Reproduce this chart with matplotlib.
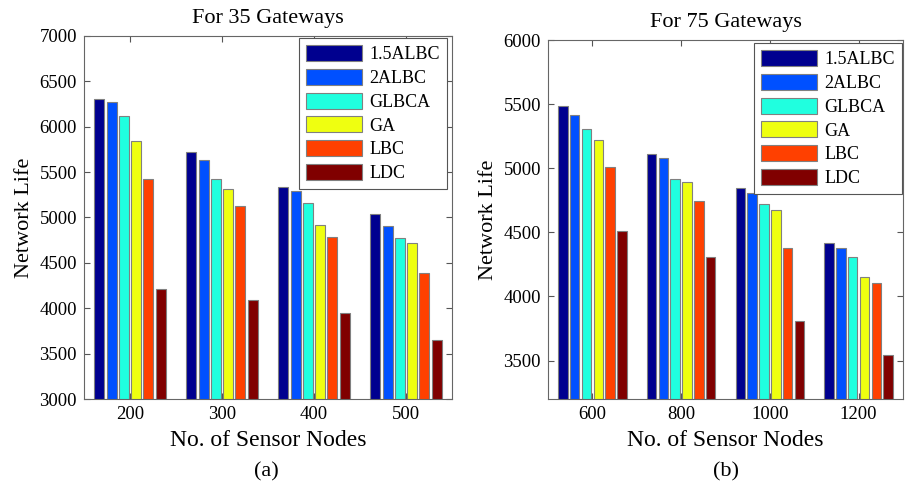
import numpy as np
import matplotlib.pyplot as plt

plt.rcParams['font.family'] = ['Liberation Serif', 'DejaVu Serif']

# algorithm names and bar colours
schemes = ['1.5ALBC', '2ALBC', 'GLBCA', 'GA', 'LBC', 'LDC']
colors = ['#00008F', '#0050FF', '#20FFDF', '#EFFF10', '#FF4000', '#800000']

# (a) 35 gateways
nodes_a = ['200', '300', '400', '500']
life_a = {
    '1.5ALBC': [6310, 5717, 5335, 5040],
    '2ALBC':   [6272, 5632, 5294, 4901],
    'GLBCA':   [6114, 5419, 5165, 4772],
    'GA':      [5846, 5309, 4915, 4717],
    'LBC':     [5419, 5125, 4787, 4393],
    'LDC':     [4210, 4096, 3952, 3654],
}

# (b) 75 gateways
nodes_b = ['600', '800', '1000', '1200']
life_b = {
    '1.5ALBC': [5484, 5107, 4844, 4417],
    '2ALBC':   [5414, 5078, 4805, 4375],
    'GLBCA':   [5305, 4917, 4719, 4307],
    'GA':      [5219, 4896, 4677, 4148],
    'LBC':     [5008, 4747, 4375, 4107],
    'LDC':     [4513, 4305, 3807, 3547],
}

W, H = 910, 486
fig = plt.figure(figsize=(W / 100, H / 100), dpi=100)

def px_axes(x0, y0, x1, y1):
    return fig.add_axes([x0 / W, 1 - y1 / H, (x1 - x0) / W, (y1 - y0) / H])

def grouped_bars(ax, labels, data, ylim, yticks, title, leg_box):
    x = np.arange(1, len(labels) + 1)
    step = 0.8 / len(schemes)
    for i, (name, c) in enumerate(zip(schemes, colors)):
        off = (i - (len(schemes) - 1) / 2) * step
        ax.bar(x + off, data[name], width=step * 0.8, bottom=0, color=c,
               edgecolor='#808080', linewidth=0.8, label=name)
    ax.set_xlim(0.5, len(labels) + 0.5)
    ax.set_ylim(*ylim)
    ax.set_xticks(x)
    ax.set_xticklabels(labels)
    ax.set_yticks(yticks)
    ax.tick_params(direction='in', top=True, right=True, length=4,
                   color='#555555', labelsize=13.5, pad=5)
    for s in ax.spines.values():
        s.set_color('#666666')
        s.set_linewidth(0.8)
    ax.set_title(title, fontsize=16, pad=9)
    ax.set_xlabel('No. of Sensor Nodes', fontsize=17, labelpad=5)
    ax.set_ylabel('Network Life', fontsize=16, labelpad=4)
    leg = ax.legend(loc='upper right', bbox_to_anchor=(leg_box[0] / W, 1 - leg_box[1] / H),
                    bbox_transform=fig.transFigure, borderaxespad=0, fontsize=13,
                    handlelength=3.1, handleheight=1.0, labelspacing=0.3,
                    handletextpad=0.4, borderpad=0.4, fancybox=False,
                    framealpha=1, edgecolor='#555555')
    leg.get_frame().set_linewidth(0.8)

ax1 = px_axes(84, 36, 452, 399)
grouped_bars(ax1, nodes_a, life_a, (3000, 7000), np.arange(3000, 7001, 500),
             'For 35 Gateways', (447, 38))

ax2 = px_axes(548, 40, 903, 399)
grouped_bars(ax2, nodes_b, life_b, (3200, 6000), np.arange(3500, 6001, 500),
             'For 75 Gateways', (902, 43))

fig.text(266 / W, 1 - 472 / H, '(a)', ha='center', va='center', fontsize=16)
fig.text(726 / W, 1 - 472 / H, '(b)', ha='center', va='center', fontsize=16)

fig.savefig('out.png', dpi=100)
